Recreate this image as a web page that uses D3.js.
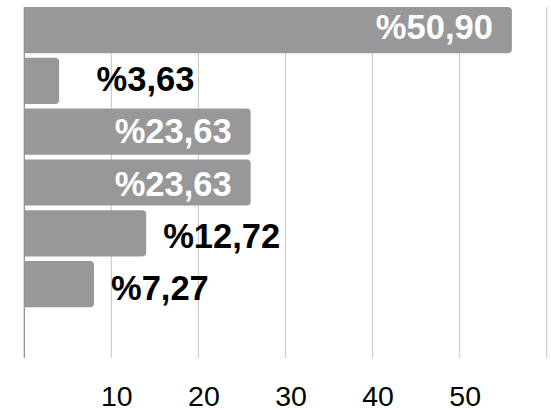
<!DOCTYPE html>
<html><head><meta charset="utf-8">
<script src="https://cdn.jsdelivr.net/npm/d3@7"></script>
<style>html,body{margin:0;padding:0;background:#fff;}svg{display:block;font-family:"Liberation Sans",Arial,sans-serif;}</style>
</head><body>
<svg id="chart" width="551" height="410"></svg>
<script>
const categories = ["A","B","C","D","E","F",""];
const counts = [56, 4, 26, 26, 14, 8, null];
const labels = ["%50,90","%3,63","%23,63","%23,63","%12,72","%7,27",""];
const tickValues = [10,20,30,40,50];
const gridValues = [10,20,30,40,50,60];

const svg = d3.select("#chart");
const plotTop = 7, plotBottom = 358;
const x = d3.scaleLinear().domain([0,60]).range([24.3,546.7]);
const y = d3.scaleBand().domain(d3.range(categories.length)).range([plotTop,plotBottom]).paddingInner(0.09).paddingOuter(0);
const yl = d3.scaleBand().domain(d3.range(categories.length)).range([0,366]);

// grid
svg.append("g").selectAll("line").data(gridValues).join("line")
  .attr("x1",d=>x(d)).attr("x2",d=>x(d)).attr("y1",plotTop).attr("y2",plotBottom)
  .attr("stroke","#cfcfcf").attr("stroke-width",1.2);

// bars with rounded right corners
const r = 4;
function barPath(x0,x1,y0,h){
  const rr = Math.min(r,(x1-x0));
  return `M${x0},${y0}H${x1-rr}Q${x1},${y0} ${x1},${y0+rr}V${y0+h-rr}Q${x1},${y0+h} ${x1-rr},${y0+h}H${x0}Z`;
}
const rows = categories.map((c,i)=>({i,c,v:counts[i],l:labels[i]})).filter(d=>d.v!=null);
svg.append("g").selectAll("path").data(rows).join("path")
  .attr("d",d=>barPath(x(0)+0.5,x(d.v),y(d.i),y.bandwidth()))
  .attr("fill","#98989a");

// axis line
svg.append("line").attr("x1",x(0)).attr("x2",x(0)).attr("y1",plotTop).attr("y2",plotBottom)
  .attr("stroke","#8a8a8a").attr("stroke-width",1.2);

// labels
const fs = 34.5;
svg.append("g").selectAll("text").data(rows).join("text")
  .each(function(d){
    const inside = (x(d.v)-x(0)) > 150;
    const t = d3.select(this)
      .attr("y", yl(d.i)+yl.bandwidth()/2+12.5)
      .attr("font-size",fs).attr("font-weight","bold").text(d.l);
    if(inside){
      t.attr("x",x(d.v)-19).attr("text-anchor","end").attr("fill","#ffffff");
    } else {
      t.attr("x",Math.max(x(d.v)+17, x(8.3))).attr("text-anchor","start").attr("fill","#000");
    }
  });

// x tick labels
const xAxis = d3.axisBottom(x).tickValues(tickValues).tickSize(0).tickPadding(0);
const ax = svg.append("g").attr("transform",`translate(0,${plotBottom})`).call(xAxis);
ax.select(".domain").remove();
ax.selectAll("text").attr("font-size",28.5).attr("font-family","Liberation Sans, Arial, sans-serif")
  .attr("fill","#000").attr("dy",null).attr("y",47.5).attr("dx",5);
</script>
</body></html>
